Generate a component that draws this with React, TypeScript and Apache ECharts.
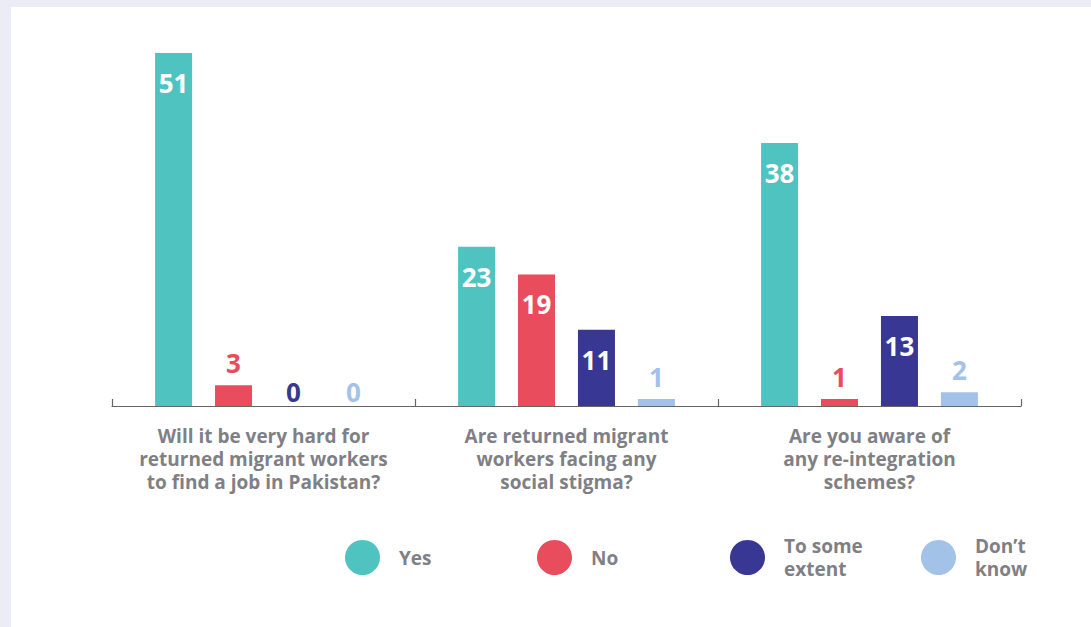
import React, { useEffect, useRef } from "react";
import * as echarts from "echarts";

const categories = [
  "Will it be very hard for\nreturned migrant workers\nto find a job in Pakistan?",
  "Are returned migrant\nworkers facing any\nsocial stigma?",
  "Are you aware of\nany re-integration\nschemes?",
];
const seriesNames = ["Yes", "No", "To some extent", "Don’t know"];
const yesValues = [51, 23, 38];
const noValues = [3, 19, 1];
const someExtentValues = [0, 11, 13];
const dontKnowValues = [0, 1, 2];
const colors = ["#4fc3bf", "#e84c5d", "#383794", "#a2c2e8"];
const legendLabels: Record<string, string> = {
  "To some extent": "To some\nextent",
  "Don’t know": "Don’t\nknow",
};

const FONT = "'Open Sans', 'Noto Sans', sans-serif";
const GREY = "#7f7f86";

export default function App() {
  const ref = useRef<HTMLDivElement>(null);
  useEffect(() => {
    if (!ref.current) return;
    const chart = echarts.init(ref.current, undefined, { renderer: "svg" });
    const allValues = [yesValues, noValues, someExtentValues, dontKnowValues];

    const series = seriesNames.map((name, si) => ({
      name,
      type: "bar",
      barWidth: 37,
      barGap: "62%",
      barCategoryGap: "28%",
      itemStyle: { color: colors[si] },
      data: allValues[si].map((v) => {
        const inside = v >= 10;
        return {
          value: v,
          label: {
            show: true,
            position: inside ? "insideTop" : "top",
            distance: inside ? 17 : v === 0 ? 1 : 9,
            color: inside ? "#ffffff" : colors[si],
            fontSize: 26,
            fontWeight: "bold",
            fontFamily: FONT,
          },
        };
      }),
    }));

    const legendLefts = [345, 537, 730, 921];
    const legends = seriesNames.map((name, i) => ({
      data: [name],
      left: legendLefts[i],
      top: legendLabels[name] ? 534.5 : 540,
      padding: 0,
      icon: "circle",
      itemWidth: 35,
      itemHeight: 35,
      selectedMode: false,
      formatter: (n: string) => legendLabels[n] || n,
      textStyle: {
        color: GREY,
        fontSize: 19,
        fontWeight: "bold",
        fontFamily: FONT,
        lineHeight: 23,
        padding: [0, 0, 0, 14],
      },
    }));

    chart.setOption({
      animation: false,
      backgroundColor: "#ececf6",
      graphic: [
        {
          type: "rect",
          silent: true,
          z: -10,
          shape: { x: 11, y: 7, width: 1080, height: 620 },
          style: { fill: "#ffffff" },
        },
      ],
      grid: { left: 112, right: 70, top: 53, bottom: 221 },
      legend: legends,
      xAxis: {
        type: "category",
        data: categories,
        axisLine: { lineStyle: { color: "#666666", width: 1.2 } },
        axisTick: {
          show: true,
          inside: true,
          length: 7,
          lineStyle: { color: "#666666", width: 1.2 },
        },
        axisLabel: {
          interval: 0,
          margin: 18,
          color: GREY,
          fontSize: 19,
          fontWeight: "bold",
          fontFamily: FONT,
          lineHeight: 23,
        },
      },
      yAxis: {
        type: "value",
        min: 0,
        max: 51,
        show: false,
        splitLine: { show: false },
      },
      series,
    });
    return () => chart.dispose();
  }, []);
  return (
    <div
      ref={ref}
      style={{ position: "fixed", left: 0, top: 0, width: 1091, height: 627 }}
    />
  );
}
